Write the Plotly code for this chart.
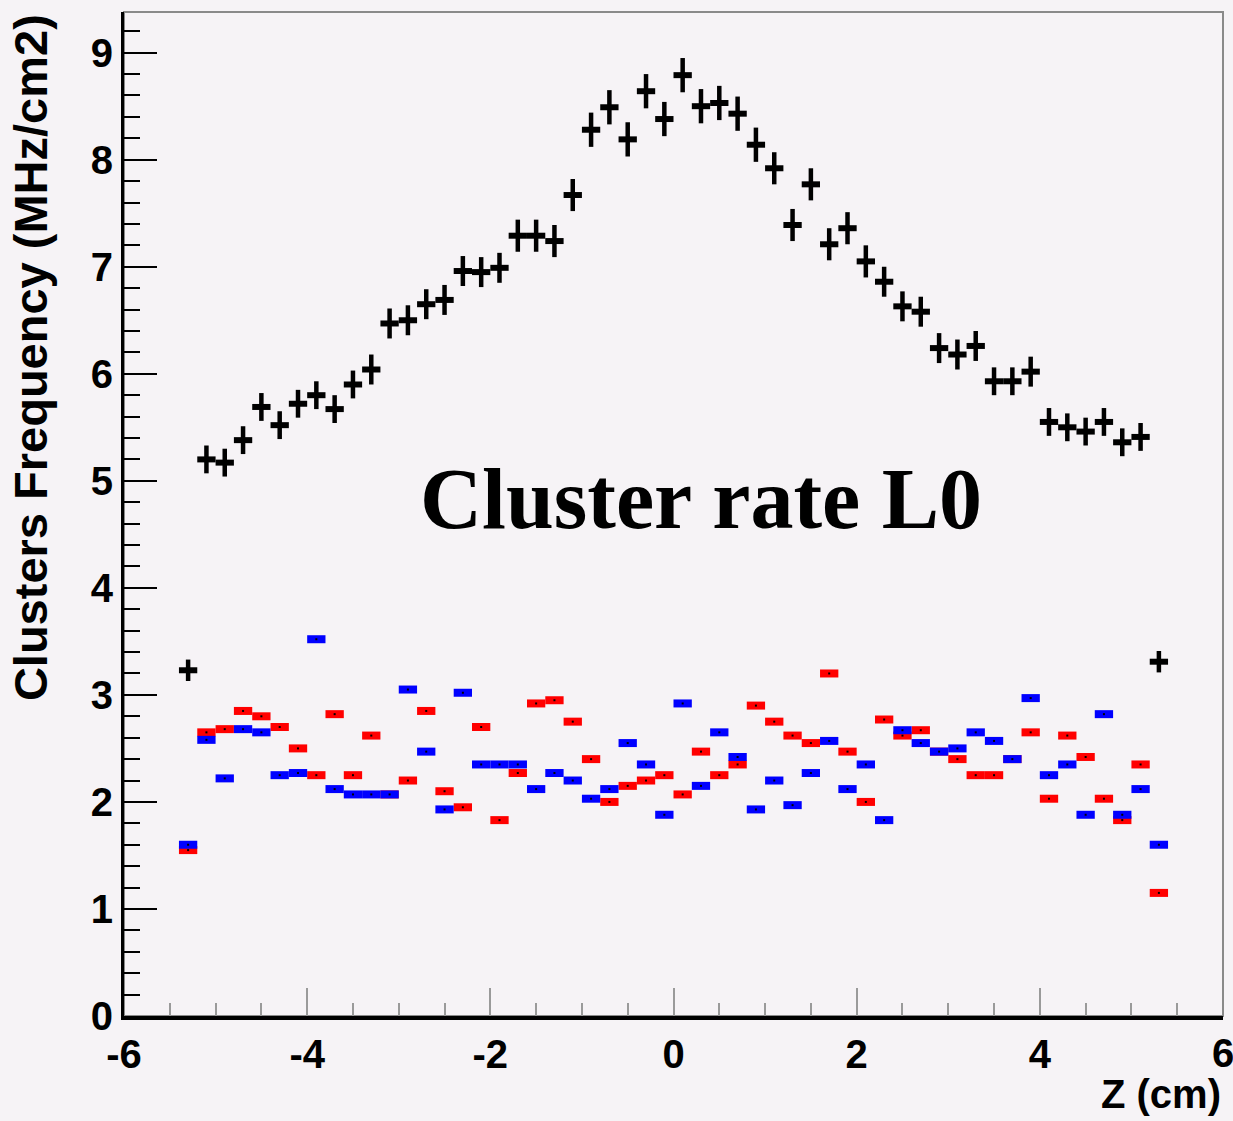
import plotly.graph_objects as go

# ---- data ----
z_centers = [-5.3, -5.1, -4.9, -4.7, -4.5, -4.3, -4.1, -3.9, -3.7, -3.5,
             -3.3, -3.1, -2.9, -2.7, -2.5, -2.3, -2.1, -1.9, -1.7, -1.5,
             -1.3, -1.1, -0.9, -0.7, -0.5, -0.3, -0.1, 0.1, 0.3, 0.5,
             0.7, 0.9, 1.1, 1.3, 1.5, 1.7, 1.9, 2.1, 2.3, 2.5,
             2.7, 2.9, 3.1, 3.3, 3.5, 3.7, 3.9, 4.1, 4.3, 4.5,
             4.7, 4.9, 5.1, 5.3]
bin_halfwidth = [0.1] * len(z_centers)

total_rate = [3.23, 5.20, 5.17, 5.38, 5.69, 5.52, 5.72, 5.80, 5.67, 5.90,
              6.04, 6.47, 6.50, 6.65, 6.69, 6.96, 6.95, 6.99, 7.29, 7.29,
              7.24, 7.67, 8.28, 8.49, 8.19, 8.64, 8.38, 8.79, 8.50, 8.53,
              8.43, 8.14, 7.92, 7.39, 7.77, 7.21, 7.36, 7.05, 6.86, 6.63,
              6.58, 6.24, 6.18, 6.26, 5.93, 5.93, 6.02, 5.55, 5.50, 5.46,
              5.55, 5.36, 5.41, 3.31]
total_err = [0.10, 0.13, 0.13, 0.13, 0.13, 0.13, 0.13, 0.13, 0.13, 0.13,
             0.14, 0.14, 0.14, 0.14, 0.14, 0.14, 0.14, 0.14, 0.15, 0.15,
             0.15, 0.15, 0.16, 0.16, 0.16, 0.16, 0.16, 0.16, 0.16, 0.16,
             0.16, 0.16, 0.15, 0.15, 0.15, 0.15, 0.15, 0.15, 0.14, 0.14,
             0.14, 0.14, 0.14, 0.14, 0.13, 0.13, 0.14, 0.13, 0.13, 0.13,
             0.13, 0.13, 0.13, 0.10]

red_rate = [1.55, 2.65, 2.68, 2.85, 2.80, 2.70, 2.50, 2.25, 2.82, 2.25,
            2.62, 2.07, 2.20, 2.85, 2.10, 1.95, 2.70, 1.83, 2.27, 2.92,
            2.95, 2.75, 2.40, 2.00, 2.15, 2.20, 2.25, 2.07, 2.47, 2.25,
            2.35, 2.90, 2.75, 2.62, 2.55, 3.20, 2.47, 2.00, 2.77, 2.62,
            2.67, 2.47, 2.40, 2.25, 2.25, 2.40, 2.65, 2.03, 2.62, 2.42,
            2.03, 1.83, 2.35, 1.15]

blue_rate = [1.60, 2.58, 2.22, 2.68, 2.65, 2.25, 2.27, 3.52, 2.12, 2.07,
             2.07, 2.07, 3.05, 2.47, 1.93, 3.02, 2.35, 2.35, 2.35, 2.12,
             2.27, 2.20, 2.03, 2.12, 2.55, 2.35, 1.88, 2.92, 2.15, 2.65,
             2.42, 1.93, 2.20, 1.97, 2.27, 2.57, 2.12, 2.35, 1.83, 2.67,
             2.55, 2.47, 2.50, 2.65, 2.57, 2.40, 2.97, 2.25, 2.35, 1.88,
             2.82, 1.88, 2.12, 1.60]

x_tickvals = [-6, -4, -2, 0, 2, 4]
x_ticktext = ["-6", "-4", "-2", "0", "2", "4"]
x_edge_value = 6
x_edge_text = "6"
y_tickvals = [0, 1, 2, 3, 4, 5, 6, 7, 8, 9]
y_ticktext = ["0", "1", "2", "3", "4", "5", "6", "7", "8", "9"]

x_title = "Z (cm)"
y_title = "Clusters Frequency (MHz/cm2)"
label_text = "Cluster rate L0"

# ---- style ----
BG = "#F6F3F6"
TICK_FONT = dict(family="Liberation Sans Narrow, Arial Narrow, Liberation Sans, Arial",
                 size=40, color="black", weight="bold")

fig = go.Figure()


def bar_series(yvals, color):
    return go.Scatter(
        x=z_centers, y=yvals, mode="markers",
        marker=dict(color="black", size=2, symbol="square"),
        error_x=dict(type="data", array=bin_halfwidth, symmetric=True,
                     color=color, thickness=8, width=0),
        hoverinfo="x+y", showlegend=False,
    )


fig.add_trace(bar_series(red_rate, "#FF0000"))
fig.add_trace(bar_series(blue_rate, "#0000FF"))

fig.add_trace(go.Scatter(
    x=z_centers, y=total_rate, mode="markers",
    marker=dict(color="black", size=1, opacity=0),
    error_x=dict(type="data", array=bin_halfwidth, symmetric=True,
                 color="black", thickness=6, width=0),
    error_y=dict(type="data", array=total_err, symmetric=True,
                 color="black", thickness=4.5, width=0),
    showlegend=False,
))

fig.update_layout(
    width=1233, height=1121,
    margin=dict(l=124, r=10, t=12, b=105),
    paper_bgcolor=BG, plot_bgcolor=BG,
    showlegend=False,
    xaxis=dict(
        range=[-6, 6], tickvals=x_tickvals, ticktext=x_ticktext,
        ticks="inside", ticklen=28, tickwidth=2, tickcolor="#9a9a9a",
        minor=dict(dtick=0.5, tick0=-6, ticks="inside", ticklen=13,
                   tickwidth=2, tickcolor="#9a9a9a", showgrid=False),
        showline=True, linecolor="black", linewidth=4,
        showgrid=False, zeroline=False, tickfont=TICK_FONT,
        automargin=False,
    ),
    yaxis=dict(
        range=[0, 9.38], tickvals=y_tickvals, ticktext=y_ticktext,
        ticks="inside", ticklen=33, tickwidth=2, tickcolor="black",
        minor=dict(dtick=0.2, tick0=0, ticks="inside", ticklen=16,
                   tickwidth=2, tickcolor="black", showgrid=False),
        showline=True, linecolor="black", linewidth=3,
        showgrid=False, zeroline=False, tickfont=TICK_FONT,
        automargin=False,
    ),
    shapes=[dict(type="rect", xref="paper", yref="paper", x0=0, x1=1, y0=0, y1=1,
                 line=dict(color="#8a8a8a", width=2), layer="below")],
    annotations=[
        dict(text=label_text, x=0.3, y=4.83, xref="x", yref="y",
             showarrow=False, xanchor="center", yanchor="middle",
             font=dict(family="Liberation Serif, Times New Roman, serif",
                       size=86, color="black", weight="bold")),
        dict(text=y_title, x=-0.085, y=1.0, xref="paper", yref="paper",
             showarrow=False, textangle=-90, xanchor="center", yanchor="top",
             font=dict(family="Liberation Sans, Arial", size=47, color="black",
                       weight="bold")),
        dict(text=x_title, x=1.0, y=-0.078, xref="paper", yref="paper",
             showarrow=False, xanchor="right", yanchor="middle",
             font=TICK_FONT),
        dict(text=x_edge_text, x=x_edge_value, y=-0.037, xref="x", yref="paper",
             showarrow=False, xanchor="center", yanchor="middle",
             font=TICK_FONT),
    ],
)

fig.write_html(
    "out.html",
    config={"displayModeBar": False},
    post_script="document.body.style.margin='0';document.body.style.padding='0';",
)
